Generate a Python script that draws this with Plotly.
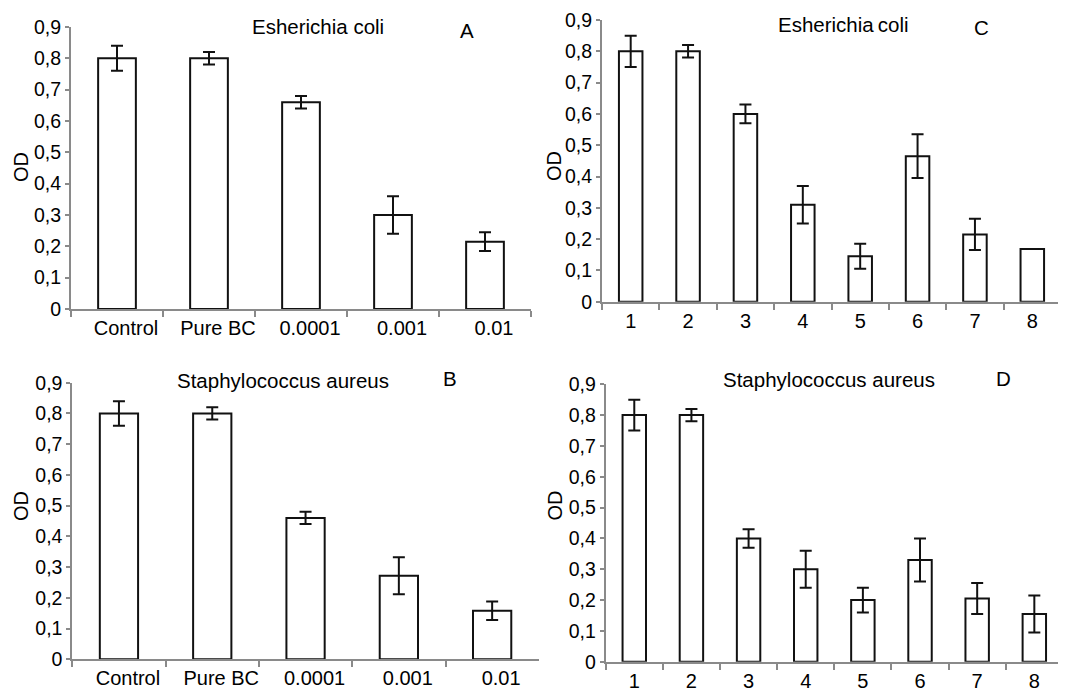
import plotly.graph_objects as go

# ---- data ----
conc_labels = ["Control", "Pure BC", "0.0001", "0.001", "0.01"]
num_labels = ["1", "2", "3", "4", "5", "6", "7", "8"]

a_vals = [0.80, 0.80, 0.66, 0.30, 0.215]
a_err = [0.04, 0.02, 0.02, 0.06, 0.03]

b_vals = [0.80, 0.80, 0.46, 0.272, 0.158]
b_err = [0.04, 0.02, 0.02, 0.06, 0.03]

c_vals = [0.80, 0.80, 0.60, 0.31, 0.145, 0.465, 0.215, 0.168]
c_err = [0.05, 0.02, 0.03, 0.06, 0.04, 0.07, 0.05, 0]

d_vals = [0.80, 0.80, 0.40, 0.30, 0.20, 0.33, 0.205, 0.155]
d_err = [0.05, 0.02, 0.03, 0.06, 0.04, 0.07, 0.05, 0.06]

y_tickvals = [0, 0.1, 0.2, 0.3, 0.4, 0.5, 0.6, 0.7, 0.8, 0.9]
y_ticktext = ["0", "0,1", "0,2", "0,3", "0,4", "0,5", "0,6", "0,7", "0,8", "0,9"]

titles = ["Esherichia coli", "Staphylococcus aureus", "Esherichia\u2009coli", "Staphylococcus aureus"]
letters = ["A", "B", "C", "D"]

W, H = 1066, 689
OFF = 8  # page body margin
FONT = "Liberation Sans, Arial, sans-serif"
AXIS_GRAY = "#8a8a8a"


def px_x(x):
    return (x - OFF) / W


def px_y(y):
    return 1 - (y - OFF) / H


panels = [
    # (cats, vals, errs, xdomain px, ydomain px (top,bottom), label shift)
    (conc_labels, a_vals, a_err, (71, 531), (27, 309), 9),
    (conc_labels, b_vals, b_err, (72.3, 538.8), (382.7, 659.3), 9),
    (num_labels, c_vals, c_err, (602, 1061), (20, 301.7), 0),
    (num_labels, d_vals, d_err, (605.7, 1062.9), (384.3, 661.7), 0),
]

fig = go.Figure()
layout = dict(
    width=W, height=H, margin=dict(l=0, r=0, t=0, b=0, autoexpand=False),
    paper_bgcolor="white", plot_bgcolor="white", showlegend=False,
    font=dict(family=FONT, color="black", size=20),
)

for i, (cats, vals, errs, xd, yd, shift) in enumerate(panels):
    k = "" if i == 0 else str(i + 1)
    fig.add_trace(go.Bar(
        x=cats, y=vals, width=0.41,
        marker=dict(color="white", line=dict(color="#111111", width=2)),
        error_y=dict(type="data", array=errs, visible=True, color="#111111",
                     thickness=2, width=6),
        xaxis="x" + k, yaxis="y" + k, cliponaxis=False,
    ))
    layout["xaxis" + k] = dict(
        domain=[px_x(xd[0]), px_x(xd[1])], anchor="y" + k,
        type="category", categoryorder="array", categoryarray=cats,
        range=[-0.5, len(cats) - 0.5],
        showline=True, linecolor=AXIS_GRAY, linewidth=2,
        ticks="outside", tickson="boundaries", ticklen=6, tickcolor=AXIS_GRAY, tickwidth=1.5,
        ticklabelshift=shift,
        showgrid=False, zeroline=False, automargin=False,
        tickfont=dict(size=20, family=FONT, color="black"),
        fixedrange=True,
    )
    layout["yaxis" + k] = dict(
        domain=[px_y(yd[1]), px_y(yd[0])], anchor="x" + k,
        range=[0, 0.9], tickvals=y_tickvals, ticktext=y_ticktext,
        showline=True, linecolor=AXIS_GRAY, linewidth=2,
        ticks="outside", ticklen=4, tickcolor=AXIS_GRAY, tickwidth=1.5,
        showgrid=False, zeroline=False, automargin=False,
        tickfont=dict(size=19.5, family=FONT, color="black"),
        fixedrange=True,
    )

fig.update_layout(**layout)

# titles, letters, OD labels (pixel positions)
title_pos = [(318, 26), (283, 380.5), (843, 25), (829, 379)]
letter_pos = [(467, 30), (450, 378.5), (981, 28), (1003, 378)]
od_pos = [(21, 167), (21, 506), (554, 166), (554.5, 506)]

for t, (x, y) in zip(titles, title_pos):
    fig.add_annotation(text=t, x=px_x(x), y=px_y(y), xref="paper", yref="paper",
                       xanchor="center", yanchor="middle", showarrow=False,
                       font=dict(size=20.5, family=FONT, color="black"))
for t, (x, y) in zip(letters, letter_pos):
    fig.add_annotation(text=t, x=px_x(x), y=px_y(y), xref="paper", yref="paper",
                       xanchor="center", yanchor="middle", showarrow=False,
                       font=dict(size=20.5, family=FONT, color="black"))
for (x, y) in od_pos:
    fig.add_annotation(text="OD", x=px_x(x), y=px_y(y), xref="paper", yref="paper",
                       xanchor="center", yanchor="middle", showarrow=False, textangle=-90,
                       font=dict(size=20, family=FONT, color="black"))

fig.write_html("out.html", config={"displayModeBar": False})
